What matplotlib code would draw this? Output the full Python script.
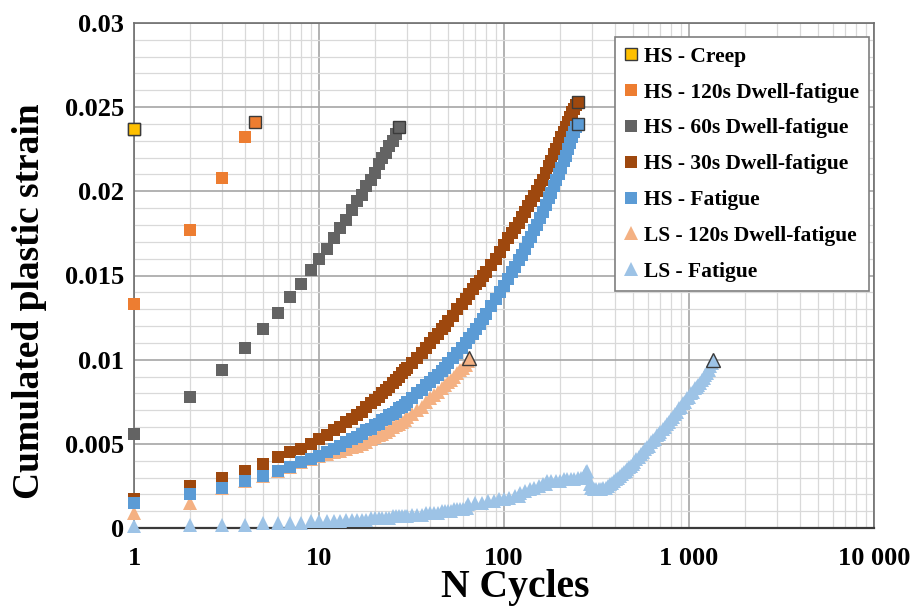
import matplotlib
matplotlib.use("Agg")
from matplotlib import pyplot as plt
from matplotlib.ticker import FixedLocator, FuncFormatter, NullFormatter

# ---- data ----
creep_n = [1]
creep_eps = [0.0237]

dw120_n = [1, 2, 3, 4, 4.5]
dw120_eps = [0.0133, 0.0177, 0.0208, 0.0232, 0.0241]

dw60_n = list(range(1, 28))
dw60_eps = [0.0056, 0.0078, 0.0094, 0.0107, 0.0118, 0.0128, 0.0137, 0.0145, 0.0153,
            0.0160, 0.0166, 0.0172, 0.0178, 0.0183, 0.0189, 0.0194, 0.0198, 0.0203,
            0.0207, 0.0211, 0.0216, 0.0220, 0.0223, 0.0227, 0.0230, 0.0234, 0.0238]

# HS 30s dwell and HS fatigue share the same cycle sampling
hs_n = list(range(1, 31)) + list(range(32, 51, 2)) + list(range(53, 81, 3)) \
    + list(range(85, 151, 5)) + list(range(156, 241, 6)) + [245, 250]
dw30_eps = [0.0017, 0.0025, 0.0030, 0.0034, 0.0038, 0.0042, 0.0045, 0.0047, 0.0050, 0.0053,
            0.0055, 0.0058, 0.0060, 0.0063, 0.0065, 0.0067, 0.0069, 0.0072, 0.0074, 0.0076,
            0.0078, 0.0080, 0.0082, 0.0084, 0.0086, 0.0088, 0.0090, 0.0092, 0.0094, 0.0095,
            0.0098, 0.0101, 0.0104, 0.0107, 0.0110, 0.0113, 0.0115, 0.0118, 0.0120, 0.0123,
            0.0126, 0.0130, 0.0133, 0.0136, 0.0139, 0.0142, 0.0145, 0.0147, 0.0150, 0.0152,
            0.0156, 0.0160, 0.0164, 0.0168, 0.0172, 0.0175, 0.0178, 0.0181, 0.0185, 0.0188,
            0.0191, 0.0194, 0.0197, 0.0200,
            0.0204, 0.0207, 0.0211, 0.0215, 0.0218, 0.0222, 0.0225, 0.0229, 0.0232, 0.0235,
            0.0238, 0.0241, 0.0244, 0.0247, 0.0249, 0.0251, 0.0253]
fat_eps = [0.0015, 0.0020, 0.0024, 0.0028, 0.0031, 0.0034, 0.0036, 0.0039, 0.0041, 0.0043,
           0.0045, 0.0047, 0.0049, 0.0051, 0.0053, 0.0054, 0.0056, 0.0058, 0.0059, 0.0061,
           0.0062, 0.0064, 0.0065, 0.0067, 0.0068, 0.0069, 0.0071, 0.0072, 0.0073, 0.0075,
           0.0077, 0.0080, 0.0082, 0.0085, 0.0087, 0.0089, 0.0091, 0.0093, 0.0095, 0.0098,
           0.0101, 0.0104, 0.0107, 0.0110, 0.0113, 0.0115, 0.0118, 0.0121, 0.0124, 0.0127,
           0.0132, 0.0136, 0.0140, 0.0144, 0.0148, 0.0152, 0.0155, 0.0159, 0.0162, 0.0166,
           0.0170, 0.0173, 0.0177, 0.0180,
           0.0184, 0.0188, 0.0192, 0.0196, 0.0199, 0.0203, 0.0207, 0.0210, 0.0214, 0.0218,
           0.0221, 0.0225, 0.0229, 0.0232, 0.0235, 0.0238, 0.0240]

ls120_n = list(range(1, 31)) + list(range(32, 65, 2)) + [65]
ls120_eps = [0.0009, 0.0015, 0.0024, 0.0028, 0.0031, 0.0034, 0.0036, 0.0039, 0.0041, 0.0043,
             0.0044, 0.0045, 0.0046, 0.0047, 0.0048, 0.0049, 0.0050, 0.0051, 0.0053, 0.0054,
             0.0055, 0.0056, 0.0057, 0.0058, 0.0060, 0.0061, 0.0062, 0.0063, 0.0064, 0.0066,
             0.0068, 0.0070, 0.0072, 0.0075, 0.0077, 0.0079, 0.0081, 0.0083, 0.0085, 0.0087,
             0.0088, 0.0090, 0.0092, 0.0094, 0.0095, 0.0097, 0.0099, 0.0101]

lsfat_n = list(range(1, 31)) + list(range(32, 63, 2)) + [
    63, 64, 70, 76, 82, 88, 94, 100, 107, 114, 120, 122, 130, 138, 146, 154, 162, 168,
    170, 180, 190, 200, 210, 220, 230, 240, 250, 260, 270, 278, 282, 286, 290,
    296, 305, 315, 325, 335, 345, 355, 365, 375, 385, 395, 405, 415, 425, 435, 445, 455,
    465, 475, 485, 495, 505, 520, 535, 550, 565, 580, 595, 610, 625, 640, 655, 670, 685,
    700, 720, 740, 760, 780, 800, 820, 840, 860, 880, 900, 925, 950, 975, 1000, 1025,
    1050, 1075, 1100, 1125, 1150, 1175, 1200, 1225, 1250, 1275, 1300, 1325, 1350]
lsfat_eps = [0.0001, 0.0002, 0.0002, 0.0002, 0.0003, 0.0003, 0.0003, 0.0003, 0.0004, 0.0004,
             0.0004, 0.0004, 0.0004, 0.0005, 0.0005, 0.0005, 0.0005, 0.0005, 0.0006, 0.0006,
             0.0006, 0.0006, 0.0006, 0.0006, 0.0007, 0.0007, 0.0007, 0.0007, 0.0007, 0.0007,
             0.0008, 0.0008, 0.0008, 0.0009, 0.0009, 0.0009, 0.0009, 0.0010, 0.0010, 0.0010,
             0.0010, 0.0011, 0.0011, 0.0011, 0.0011, 0.0012,
             0.0012, 0.0014, 0.0015, 0.0015, 0.0016, 0.0016, 0.0017, 0.0017, 0.0018, 0.0019,
             0.0019, 0.0021, 0.0022, 0.0023, 0.0024, 0.0025, 0.0026, 0.0026,
             0.0028, 0.0028, 0.0028, 0.0028, 0.0029, 0.0029, 0.0029, 0.0029, 0.0030, 0.0030,
             0.0031, 0.0033, 0.0034, 0.0030, 0.0026,
             0.0024, 0.0023, 0.0023, 0.0023, 0.0023, 0.0024, 0.0024, 0.0025, 0.0026, 0.0027,
             0.0028, 0.0029, 0.0030, 0.0031, 0.0032, 0.0033, 0.0034, 0.0035, 0.0036, 0.0037,
             0.0038, 0.0039, 0.0041, 0.0042, 0.0044, 0.0045, 0.0047, 0.0048, 0.0049, 0.0051,
             0.0052, 0.0053, 0.0055, 0.0056, 0.0057, 0.0059, 0.0060, 0.0062, 0.0063, 0.0065,
             0.0066, 0.0068, 0.0069, 0.0071, 0.0072, 0.0074, 0.0075, 0.0077, 0.0078, 0.0080,
             0.0081, 0.0083, 0.0084, 0.0085, 0.0086, 0.0088, 0.0089, 0.0091, 0.0092, 0.0094,
             0.0096, 0.0098, 0.0100]

x_ticks = [1, 10, 100, 1000, 10000]
x_tick_labels = ["1", "10", "100", "1 000", "10 000"]
y_ticks = [0, 0.005, 0.01, 0.015, 0.02, 0.025, 0.03]
y_tick_labels = ["0", "0.005", "0.01", "0.015", "0.02", "0.025", "0.03"]

# (label, n, eps, color, marker, zorder)
series = [
    ("LS - Fatigue", lsfat_n, lsfat_eps, "#9dc3e6", "^", 3),
    ("LS - 120s Dwell-fatigue", ls120_n, ls120_eps, "#f4b183", "^", 4),
    ("HS - 30s Dwell-fatigue", hs_n, dw30_eps, "#9e480e", "s", 5),
    ("HS - Fatigue", hs_n, fat_eps, "#5b9bd5", "s", 6),
    ("HS - 60s Dwell-fatigue", dw60_n, dw60_eps, "#636363", "s", 7),
    ("HS - 120s Dwell-fatigue", dw120_n, dw120_eps, "#ed7d31", "s", 8),
    ("HS - Creep", creep_n, creep_eps, "#ffc000", "s", 9),
]
legend_order = ["HS - Creep", "HS - 120s Dwell-fatigue", "HS - 60s Dwell-fatigue",
                "HS - 30s Dwell-fatigue", "HS - Fatigue", "LS - 120s Dwell-fatigue",
                "LS - Fatigue"]

plt.rcParams["font.family"] = ["Liberation Serif", "DejaVu Serif"]
plt.rcParams["font.weight"] = "bold"

fig = plt.figure(figsize=(9.11, 6.13), dpi=100)
ax = fig.add_axes([134 / 911, 85 / 613, 740 / 911, 505 / 613])

handles = {}
for label, n, eps, color, marker, z in series:
    ms = 8.8 if marker == "s" else 9.8
    # every cycle, no outline
    h, = ax.plot(n[:-1] if len(n) > 1 else n, eps[:-1] if len(eps) > 1 else eps,
                 linestyle="none", marker=marker, markersize=ms, color=color,
                 markeredgewidth=0, zorder=z, label=label, clip_on=False)
    # last cycle drawn with a dark outline
    ax.plot(n[-1:], eps[-1:], linestyle="none", marker=marker, markersize=ms,
            markerfacecolor=color, markeredgecolor="#3a3a3a", markeredgewidth=1.0,
            zorder=z + 10, clip_on=False)
    handles[label] = h

# creep legend entry keeps its outline
handles["HS - Creep"].set_markeredgewidth(1.0)
handles["HS - Creep"].set_markeredgecolor("#3a3a3a")

ax.set_xscale("log")
ax.set_xlim(1, 10000)
ax.set_ylim(0, 0.03)

ax.xaxis.set_major_locator(FixedLocator(x_ticks))
ax.xaxis.set_major_formatter(FuncFormatter(
    lambda v, p: x_tick_labels[x_ticks.index(round(v))] if round(v) in x_ticks else ""))
minor_x = [m * 10 ** d for d in range(4) for m in range(2, 10)]
ax.xaxis.set_minor_locator(FixedLocator(minor_x))
ax.xaxis.set_minor_formatter(NullFormatter())

ax.yaxis.set_major_locator(FixedLocator(y_ticks))
ax.set_yticklabels(y_tick_labels)
ax.yaxis.set_minor_locator(FixedLocator([i * 0.001 for i in range(31)]))

ax.grid(which="major", color="#a6a6a6", linewidth=1.2, zorder=0)
ax.grid(which="minor", color="#d9d9d9", linewidth=0.9, zorder=0)
ax.set_axisbelow(True)

ax.tick_params(which="both", length=0)
ax.tick_params(axis="x", labelsize=19, pad=14)
ax.tick_params(axis="y", labelsize=19, pad=7)
for t in ax.get_xticklabels() + ax.get_yticklabels():
    t.set_fontweight("bold")

for side in ["top", "right", "left"]:
    ax.spines[side].set_color("#6e6e6e")
    ax.spines[side].set_linewidth(1.2)
ax.spines["bottom"].set_color("#3a3a3a")
ax.spines["bottom"].set_linewidth(1.6)

ax.set_xlabel("N Cycles", fontsize=28.5, fontweight="bold")
ax.set_ylabel("Cumulated plastic strain", fontsize=27, fontweight="bold")
ax.xaxis.set_label_coords(0.515, -0.0812)
ax.yaxis.set_label_coords(-0.118, 0.45)

leg = ax.legend([handles[k] for k in legend_order], legend_order,
                loc="upper right", bbox_to_anchor=(0.993, 0.972), borderaxespad=0,
                numpoints=1, fancybox=False, framealpha=1, edgecolor="#7f7f7f",
                prop={"family": "Liberation Serif", "weight": "bold", "size": 15.5},
                handlelength=0.6, handletextpad=0.3, labelspacing=0.73,
                borderpad=0.45)
leg.get_frame().set_linewidth(1.2)
leg.set_zorder(30)

fig.savefig("out.png", dpi=100)
